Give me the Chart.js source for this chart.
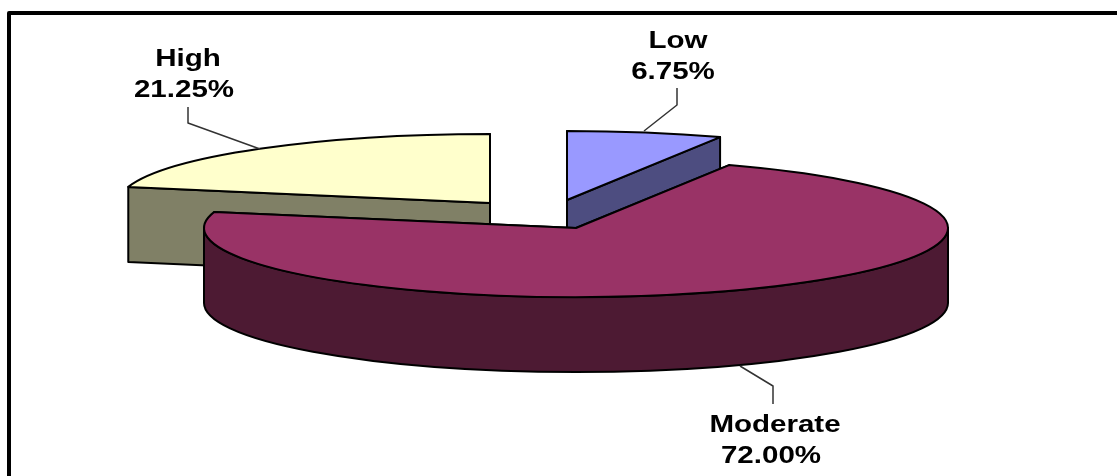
<!DOCTYPE html>
<html>
<head>
<meta charset="utf-8">
<title>Risk levels</title>
<script src="https://cdn.jsdelivr.net/npm/chart.js@4/dist/chart.umd.min.js"></script>
<style>
  html, body { margin: 0; padding: 0; background: #fff; overflow: hidden; }
  canvas { display: block; }
</style>
</head>
<body>
<canvas id="grafico" width="1117" height="476"></canvas>
<script>
const categorias = ['Low', 'Moderate', 'High'];
const valores = [6.75, 72.00, 21.25];

const coresTopo = ['#9999FF', '#993366', '#FFFFCC'];
const coresLado = ['#4D4D80', '#4D1A33', '#808066'];

// centre of each slice's top face once the pie is laid flat and pulled apart
const centros = [{ x: 567, y: 200 }, { x: 576, y: 228 }, { x: 490, y: 203 }];
const RX = 372, RY = 69, ALTURA = 75;

// leader lines and label positions, same order as categorias
const guias = [
  [[677, 88], [677, 105], [644, 131]],
  [[773, 404], [773, 386], [740, 366]],
  [[188, 107], [188, 123], [260, 149]]
];
const rotulos = [
  { xNome: 678, xValor: 673, y: 48 },
  { xNome: 775, xValor: 771, y: 432 },
  { xNome: 188, xValor: 184, y: 66 }
];

const ORDEM_DESENHO = [2, 0, 1];

function pontoBorda(c, ang) {
  return { x: c.x + RX * Math.cos(ang), y: c.y + RY * Math.sin(ang) };
}

function desenharParede(ctx, c, ang, cor) {
  const p = pontoBorda(c, ang);
  ctx.beginPath();
  ctx.moveTo(c.x, c.y);
  ctx.lineTo(p.x, p.y);
  ctx.lineTo(p.x, p.y + ALTURA);
  ctx.lineTo(c.x, c.y + ALTURA);
  ctx.closePath();
  ctx.fillStyle = cor;
  ctx.fill();
  ctx.stroke();
}

function desenharFatia(chart, arc, i) {
  const ctx = chart.ctx;
  const c = centros[i];
  const a0 = arc.startAngle, a1 = arc.endAngle;
  ctx.lineWidth = 2;
  ctx.strokeStyle = '#000';
  ctx.lineJoin = 'round';

  desenharParede(ctx, c, a0, coresLado[i]);
  desenharParede(ctx, c, a1, coresLado[i]);

  // curved wall, only the part that faces the front
  const ini = Math.max(a0, 0), fim = Math.min(a1, Math.PI);
  if (fim > ini) {
    ctx.beginPath();
    ctx.ellipse(c.x, c.y, RX, RY, 0, ini, fim);
    ctx.ellipse(c.x, c.y + ALTURA, RX, RY, 0, fim, ini, true);
    ctx.closePath();
    ctx.fillStyle = coresLado[i];
    ctx.fill();
    ctx.stroke();
  }

  // the library's own arc, squashed onto the ellipse
  const r = arc.outerRadius;
  ctx.save();
  ctx.translate(c.x, c.y);
  ctx.scale(RX / r, RY / r);
  ctx.translate(-arc.x, -arc.y);
  arc.draw(ctx);
  ctx.restore();

  ctx.beginPath();
  ctx.moveTo(c.x, c.y);
  ctx.ellipse(c.x, c.y, RX, RY, 0, a0, a1);
  ctx.closePath();
  ctx.stroke();
}

function escreverLinha(ctx, txt, x, y) {
  ctx.save();
  ctx.translate(x, y);
  ctx.scale(1.23, 1);
  ctx.fillText(txt, 0, 0);
  ctx.restore();
}

function desenharRotulo(ctx, i) {
  ctx.strokeStyle = '#333';
  ctx.lineWidth = 1.5;
  ctx.beginPath();
  guias[i].forEach((p, k) => k ? ctx.lineTo(p[0], p[1]) : ctx.moveTo(p[0], p[1]));
  ctx.stroke();

  const pos = rotulos[i];
  ctx.fillStyle = '#000';
  ctx.font = 'bold 24px "Liberation Sans"';
  ctx.textAlign = 'center';
  ctx.textBaseline = 'alphabetic';
  escreverLinha(ctx, categorias[i], pos.xNome, pos.y);
  escreverLinha(ctx, valores[i].toFixed(2) + '%', pos.xValor, pos.y + 30.5);
}

const pizza3d = {
  id: 'pizza3d',
  beforeDatasetDraw(chart) {
    const arcos = chart.getDatasetMeta(0).data;
    ORDEM_DESENHO.forEach(i => desenharFatia(chart, arcos[i], i));
    return false;
  },
  afterDraw(chart) {
    const ctx = chart.ctx;
    // frame runs off the right and bottom of the page
    ctx.save();
    ctx.strokeStyle = '#000';
    ctx.lineWidth = 4;
    ctx.beginPath();
    ctx.moveTo(9, 476);
    ctx.lineTo(9, 13);
    ctx.lineTo(1117, 13);
    ctx.stroke();
    categorias.forEach((_, i) => desenharRotulo(ctx, i));
    ctx.restore();
  }
};

new Chart(document.getElementById('grafico'), {
  type: 'pie',
  data: {
    labels: categorias,
    datasets: [{ data: valores, backgroundColor: coresTopo, borderWidth: 0 }]
  },
  options: {
    responsive: false,
    animation: false,
    plugins: { legend: { display: false }, tooltip: { enabled: false } }
  },
  plugins: [pizza3d]
});
</script>
</body>
</html>
